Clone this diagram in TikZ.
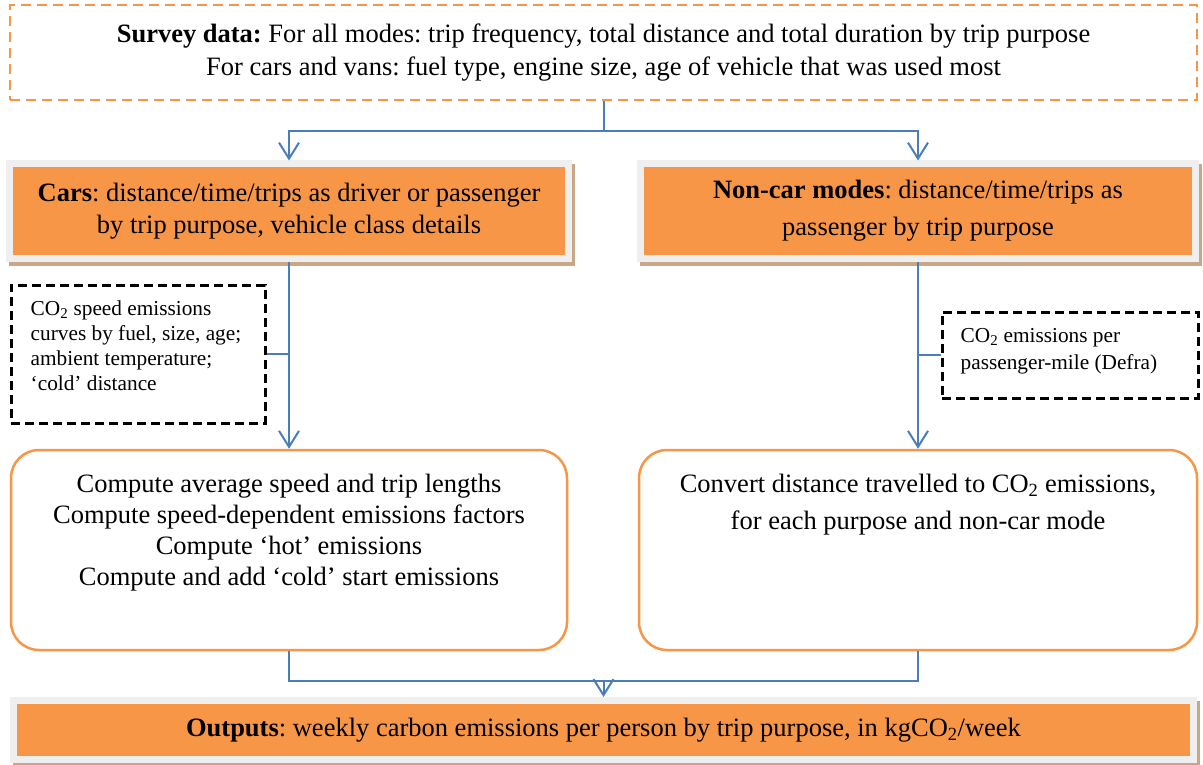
\documentclass[tikz,border=0pt]{standalone}
\usepackage{fontspec}
\setmainfont{Liberation Serif}
\frenchspacing
\usetikzlibrary{positioning,arrows.meta}
\definecolor{boxOrange}{RGB}{247,150,70}
\definecolor{frameGray}{RGB}{239,239,239}
\definecolor{shadowBrown}{RGB}{201,167,134}
\definecolor{flowBlue}{RGB}{74,126,187}
\tikzstyle{sheet} = [x = 1pt, y = -1pt]
\tikzstyle{flowLine} = [color=flowBlue, line width=2pt]
\tikzstyle{flowArrow} = [flowLine, -{Straight Barb[length=16pt, width=20pt]}]
\tikzstyle{bigText} = [font=\fontsize{26.5}{32}\selectfont, align=center]
\tikzstyle{smallText} = [font=\fontsize{21.3}{25}\selectfont, align=left, inner sep=0pt]
\tikzstyle{surveyBox} = [bigText, draw=boxOrange, line width=2.2pt, dash pattern=on 10pt off 6pt]
\tikzstyle{modeBox} = [bigText, fill=boxOrange, draw=frameGray, line width=7pt,
  preaction={fill=shadowBrown, draw=shadowBrown, transform canvas={xshift=3pt, yshift=-4pt}}]
\tikzstyle{dataBox} = [draw=black, line width=3pt, dash pattern=on 9pt off 5pt]
\tikzstyle{stepBox} = [draw=boxOrange, line width=2.5pt, rounded corners=28pt]
\tikzstyle{stepText} = [bigText, inner sep=0pt]
\newcommand{\co}{CO\textsubscript{2}}

\begin{document}
\begin{tikzpicture}[sheet]
  \useasboundingbox (0,0) rectangle (1203,765);

  % survey input
  \node[surveyBox, font=\fontsize{26.5}{33}\selectfont, minimum width=1187pt, minimum height=95pt] (survey) at (603.5,52.5)
    {\textbf{Survey data:} For all modes: trip frequency, total distance and total duration by trip purpose\\
     For cars and vans: fuel type, engine size, age of vehicle that was used most};

  % the two branches
  \node[modeBox, minimum width=559pt, minimum height=94pt] (cars) at (289,211)
    {\textbf{Cars}: distance/time/trips as driver or passenger\\by trip purpose, vehicle class details};
  \node[modeBox, minimum width=555pt, minimum height=94pt, font=\fontsize{26.5}{37}\selectfont] (nonCar) at (918,211)
    {\textbf{Non-car modes}: distance/time/trips as\\passenger by trip purpose};

  \node[dataBox, minimum width=254pt, minimum height=138pt] (speedCurves) at (138,354) {};
  \node[smallText, below right=17pt and 21pt of speedCurves.north west] (speedCurvesText)
    {\co{} speed emissions\\curves by fuel, size, age;\\ambient temperature;\\`cold' distance};
  \node[dataBox, minimum width=256pt, minimum height=86pt] (passengerMile) at (1070,355) {};
  \node[smallText, font=\fontsize{21.3}{27}\selectfont, below right=18pt and 20pt of passengerMile.north west] (passengerMileText)
    {\co{} emissions per\\passenger-mile (Defra)};

  \node[stepBox, minimum width=556pt, minimum height=200pt] (compute) at (289,550) {};
  \node[stepText, font=\fontsize{26.5}{31}\selectfont, below=25pt of compute.north] (computeText)
    {Compute average speed and trip lengths\\Compute speed-dependent emissions factors\\
     Compute `hot' emissions\\Compute and add `cold' start emissions};
  \node[stepBox, minimum width=558pt, minimum height=200pt] (convert) at (918,550) {};
  \node[stepText, font=\fontsize{26.5}{37}\selectfont, below=25pt of convert.north] (convertText)
    {Convert distance travelled to \co{} emissions,\\for each purpose and non-car mode};

  \node[modeBox, minimum width=1180pt, minimum height=59pt] (outputs) at (603.5,730)
    {\textbf{Outputs}: weekly carbon emissions per person by trip purpose, in kgCO\textsubscript{2}/week};

  % connectors
  \draw[flowLine] (survey.south) -- ++(0,30) coordinate (split);
  \draw[flowArrow] (split) -| (cars.north);
  \draw[flowArrow] (split) -| (nonCar.north);
  \draw[flowArrow] (cars.south) -- (cars.south |- compute.north);
  \draw[flowLine] (speedCurves.east) -- (speedCurves.east -| cars.south);
  \draw[flowArrow] (nonCar.south) -- (nonCar.south |- convert.north);
  \draw[flowLine] (passengerMile.west) -- (passengerMile.west -| nonCar.south);
  \draw[flowLine] (compute.south) -- ++(0,30) coordinate (merge) -| (convert.south);
  \draw[flowArrow] (merge -| outputs.north) -- (outputs.north);
\end{tikzpicture}
\end{document}
